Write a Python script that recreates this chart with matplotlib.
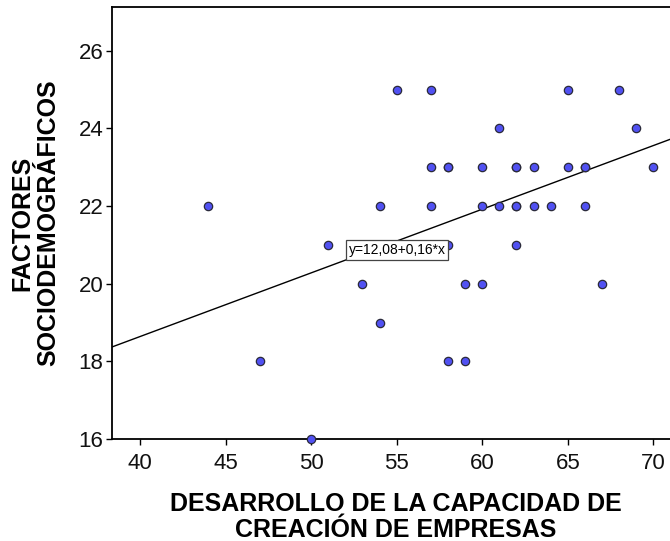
import matplotlib
matplotlib.use("Agg")
import matplotlib.pyplot as plt
import numpy as np

plt.rcParams['font.family'] = ['Liberation Sans', 'DejaVu Sans']

# capacidad de creacion de empresas vs factores sociodemograficos
x_vals = [44, 47, 50, 51, 53, 54, 54, 55, 57, 57, 57, 58, 58, 58, 58,
          59, 59, 60, 60, 60, 61, 61, 62, 62, 62, 62, 62, 63, 63, 64,
          65, 65, 66, 66, 66, 67, 68, 69, 70]
y_vals = [22, 18, 16, 21, 20, 19, 22, 25, 25, 23, 22, 23, 23, 21, 18,
          20, 18, 23, 22, 20, 24, 22, 23, 23, 22, 22, 21, 23, 22, 22,
          25, 23, 23, 23, 22, 20, 25, 24, 23]

# fit line as drawn in the chart
intercept = 12.08
slope = 0.164
fit_label = "y=12,08+0,16*x"

x_ticks = [40, 45, 50, 55, 60, 65, 70]
y_ticks = [16, 18, 20, 22, 24, 26]

fig = plt.figure(figsize=(6.7, 5.41), dpi=100)
ax = fig.add_axes([112/670, 1 - 439/541, 568/670, 432/541])

xmin, xmax = 38.36, 71.56
ax.set_xlim(xmin, xmax)
ax.set_ylim(16, 27.13)

ax.scatter(x_vals, y_vals, s=36, color='#5151f2', edgecolors='#2a2a3a',
           linewidths=0.9, zorder=3, clip_on=False)

xl = np.array([xmin, xmax])
ax.plot(xl, intercept + slope * xl, color='black', lw=1.0, zorder=2)

ax.text(55.02, 20.87, fit_label, fontsize=10, ha='center', va='center', zorder=4,
        bbox=dict(boxstyle='square,pad=0.2', facecolor='white', edgecolor='#444444', lw=0.9))

ax.set_xticks(x_ticks)
ax.set_yticks(y_ticks)
ax.tick_params(axis='both', direction='out', length=4.3, width=1, labelsize=16,
               color='black', labelcolor='#111111')
ax.tick_params(axis='x', pad=6)
ax.tick_params(axis='y', pad=2)
for side in ['top', 'left', 'bottom', 'right']:
    ax.spines[side].set_linewidth(1.3)

fig.text(35/670, 1 - 223/541, "FACTORES\nSOCIODEMOGRÁFICOS", rotation=90,
         ha='center', va='center', multialignment='center', linespacing=1.1,
         fontsize=18, fontweight='bold')
fig.text(396/670, 1 - 517/541, "DESARROLLO DE LA CAPACIDAD DE\nCREACIÓN DE EMPRESAS",
         ha='center', va='center', multialignment='center', linespacing=1.1,
         fontsize=18, fontweight='bold')

fig.savefig("out.png", dpi=100, facecolor='white')
